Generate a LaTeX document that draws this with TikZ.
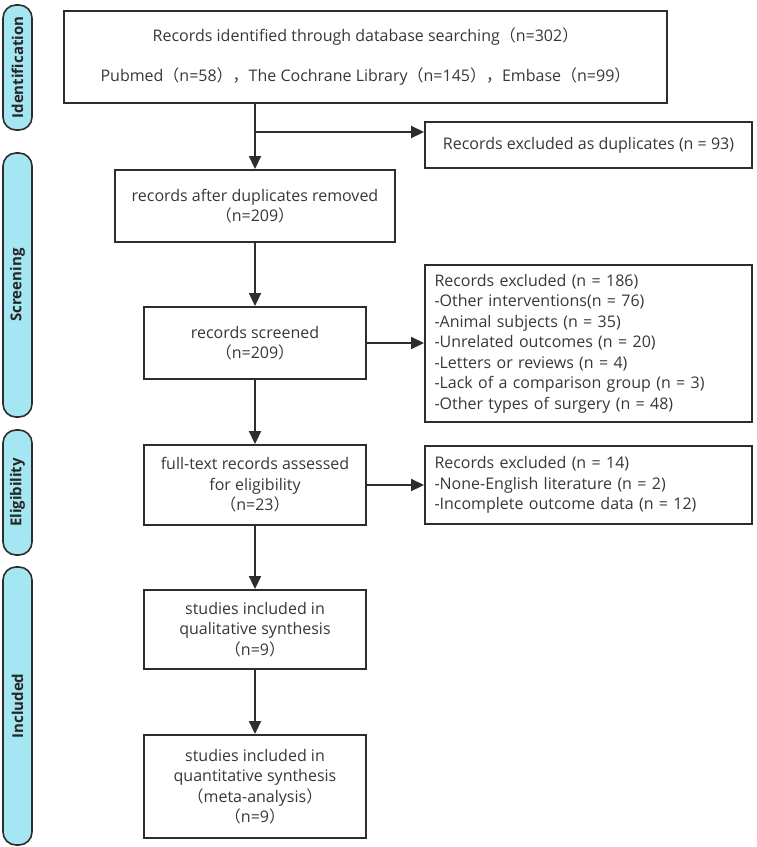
\documentclass[tikz,border=0pt]{standalone}
\usepackage{fontspec}
\setmainfont{Open Sans}
\newfontfamily\cjkf{Noto Sans CJK SC}
\usetikzlibrary{arrows.meta}
\definecolor{bord}{RGB}{45,45,45}
\definecolor{txt}{RGB}{55,55,55}
\definecolor{phase}{RGB}{164,230,242}
\newcommand\flp{{\cjkf （}}
\newcommand\frp{{\cjkf ）}}
\newcommand\fcm{{\cjkf ，}}
\tikzset{
  box/.style={draw=bord, line width=2pt, align=center, inner sep=0pt, text=txt,
    font=\fontsize{16}{20.5}\selectfont},
  lbox/.style={box, align=left, text width=308pt},
  arr/.style={draw=bord, line width=2.2pt, -{Triangle[length=13pt,width=12pt]}},
  phasebar/.style={draw=bord, line width=1.6pt, fill=phase, rounded corners=13pt,
    rotate=90, minimum height=29pt, inner sep=0pt, text=black!85,
    font=\fontsize{15}{17}\selectfont\bfseries}
}
\begin{document}
\begin{tikzpicture}[x=1pt,y=-1pt]
\useasboundingbox (0,0) rectangle (756,847);
% phase bars
\node[phasebar, minimum width=125pt] (pid) at (17.5,67.5) {Identification};
\node[phasebar, minimum width=264pt] (psc) at (17.5,285) {Screening};
\node[phasebar, minimum width=125pt] (pel) at (17.5,492.5) {Eligibility};
\node[phasebar, minimum width=278pt] (pin) at (17.5,706) {Included};
% main boxes
\node[box, minimum width=603pt, minimum height=92pt, font=\fontsize{16}{40}\selectfont] (top) at (365.5,57)
  {Records identified through database searching\flp n=302\frp\\
   Pubmed\flp n=58\frp\fcm The Cochrane Library\flp n=145\frp\fcm Embase\flp n=99\frp};
\node[box, minimum width=327pt, minimum height=46pt] (dup) at (588.5,145)
  {Records excluded as duplicates (n = 93)};
\node[box, minimum width=280pt, minimum height=72pt] (b2) at (255,206)
  {records after duplicates removed\\ \flp n=209\frp};
\node[box, minimum width=222pt, minimum height=72pt] (b3) at (255,343)
  {records screened\\ \flp n=209\frp};
\node[lbox, minimum width=327pt, minimum height=157pt] (ex3) at (588.5,343.5)
  {Records excluded (n = 186)\\
   -Other interventions(n = 76)\\
   -Animal subjects (n = 35)\\
   -Unrelated outcomes (n = 20)\\
   -Letters or reviews (n = 4)\\
   -Lack of a comparison group (n = 3)\\
   -Other types of surgery (n = 48)};
\node[box, minimum width=222pt, minimum height=80pt] (b4) at (255,485)
  {full-text records assessed\\ for eligibility\\ \flp n=23\frp};
\node[lbox, minimum width=327pt, minimum height=78pt] (ex4) at (588.5,485)
  {Records excluded (n = 14)\\
   -None-English literature (n = 2)\\
   -Incomplete outcome data (n = 12)};
\node[box, minimum width=222pt, minimum height=79pt] (b5) at (255,629.5)
  {studies included in\\ qualitative synthesis\\ \flp n=9\frp};
\node[box, minimum width=222pt, minimum height=103pt] (b6) at (255,786.5)
  {studies included in\\ quantitative synthesis\\ \flp meta-analysis\frp\\ \flp n=9\frp};
% connectors
\coordinate (br) at (255,132);
\draw[arr] (top.south -| b2.north) -- (b2.north);
\draw[arr] (br) -- (br -| dup.west);
\draw[arr] (b2.south) -- (b3.north);
\draw[arr] (b3.east) -- (b3.east -| ex3.west);
\draw[arr] (b3.south) -- (b4.north);
\draw[arr] (b4.east) -- (b4.east -| ex4.west);
\draw[arr] (b4.south) -- (b5.north);
\draw[arr] (b5.south) -- (b6.north);
\end{tikzpicture}
\end{document}
